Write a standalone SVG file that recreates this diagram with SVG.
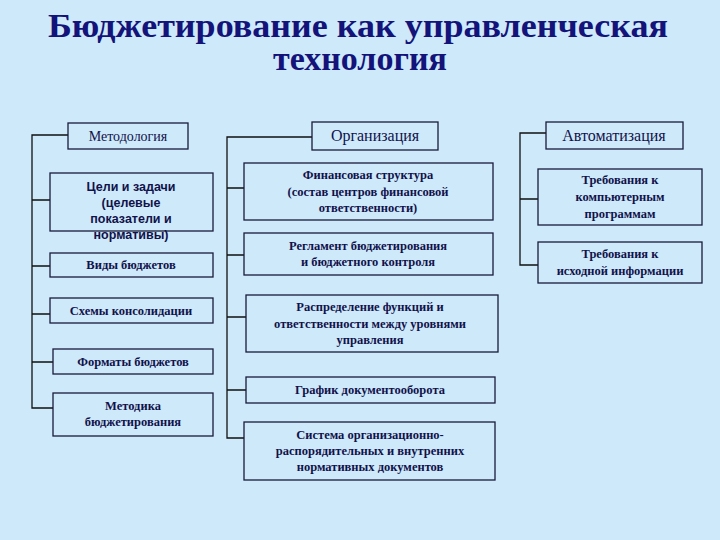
<svg xmlns="http://www.w3.org/2000/svg" width="720" height="540" viewBox="0 0 720 540">
<style>
.b{fill:#cde9fa;stroke:#1b1b3a;stroke-width:1.3}
.t{font-family:"Liberation Serif",serif;font-weight:bold;font-size:12.5px;fill:#12124a;text-anchor:middle}
.s{font-family:"Liberation Sans",sans-serif;font-weight:bold;font-size:12.5px;fill:#12124a;text-anchor:middle}
.h{font-family:"Liberation Serif",serif;font-size:16px;fill:#12124a;text-anchor:middle}
.c{stroke:#111;stroke-width:1.3;fill:none}
</style>
<rect width="720" height="540" fill="#cde9fa"/>
<text x="358" y="37" font-family="Liberation Serif,serif" font-weight="bold" font-size="34" fill="#13137a" text-anchor="middle" textLength="620" lengthAdjust="spacingAndGlyphs">Бюджетирование как управленческая</text>
<text x="360" y="70" font-family="Liberation Serif,serif" font-weight="bold" font-size="34" fill="#13137a" text-anchor="middle">технология</text>
<g id="connectors" class="c">
<path d="M68 135H32V408H53M32 200H50M32 266H50M32 314H50M32 362H53"/>
<path d="M312 137H227V438H244M227 188H244M227 255H244M227 317H246M227 390H246"/>
<path d="M546 133H520V265H538M520 199H538"/>
</g>
<g id="n1"><rect class="b" x="68" y="123" width="120" height="26"/><text class="t" x="128" y="141" style="font-size:14px;font-weight:normal">Методология</text></g>
<g id="n2"><rect class="b" x="50" y="173" width="163" height="58"/><text class="s" x="131" y="191">Цели и задачи</text><text class="s" x="131" y="207">(целевые</text><text class="s" x="131" y="223">показатели и</text><text class="s" x="131" y="239">нормативы)</text></g>
<g id="n3"><rect class="b" x="50" y="253" width="163" height="24"/><text class="t" x="131" y="269">Виды бюджетов</text></g>
<g id="n4"><rect class="b" x="50" y="298" width="163" height="25"/><text class="t" x="131" y="315">Схемы консолидации</text></g>
<g id="n5"><rect class="b" x="53" y="349" width="160" height="25"/><text class="t" x="133" y="366">Форматы бюджетов</text></g>
<g id="n6"><rect class="b" x="53" y="393" width="160" height="43"/><text class="t" x="133" y="410">Методика</text><text class="t" x="133" y="426">бюджетирования</text></g>
<g id="n7"><rect class="b" x="312" y="122" width="126" height="28"/><text class="h" x="375" y="141">Организация</text></g>
<g id="n8"><rect class="b" x="244" y="163" width="249" height="57"/><text class="t" x="368" y="179">Финансовая структура</text><text class="t" x="368" y="196">(состав центров  финансовой</text><text class="t" x="368" y="212">ответственности)</text></g>
<g id="n9"><rect class="b" x="244" y="233" width="249" height="42"/><text class="t" x="368" y="250">Регламент бюджетирования</text><text class="t" x="368" y="266">и бюджетного контроля</text></g>
<g id="n10"><rect class="b" x="246" y="295" width="252" height="57"/><text class="t" x="370" y="311">Распределение функций и</text><text class="t" x="370" y="328">ответственности между уровнями</text><text class="t" x="370" y="344">управления</text></g>
<g id="n11"><rect class="b" x="246" y="377" width="249" height="26"/><text class="t" x="370" y="394">График документооборота</text></g>
<g id="n12"><rect class="b" x="244" y="422" width="251" height="58"/><text class="t" x="370" y="439">Система организационно-</text><text class="t" x="370" y="455">распорядительных и внутренних</text><text class="t" x="370" y="471">нормативных документов</text></g>
<g id="n13"><rect class="b" x="546" y="122" width="137" height="27"/><text class="h" x="614" y="141">Автоматизация</text></g>
<g id="n14"><rect class="b" x="538" y="169" width="164" height="56"/><text class="t" x="620" y="184">Требования к</text><text class="t" x="620" y="201">компьютерным</text><text class="t" x="620" y="218">программам</text></g>
<g id="n15"><rect class="b" x="538" y="242" width="164" height="41"/><text class="t" x="620" y="258">Требования к</text><text class="t" x="620" y="275">исходной информации</text></g>
</svg>
